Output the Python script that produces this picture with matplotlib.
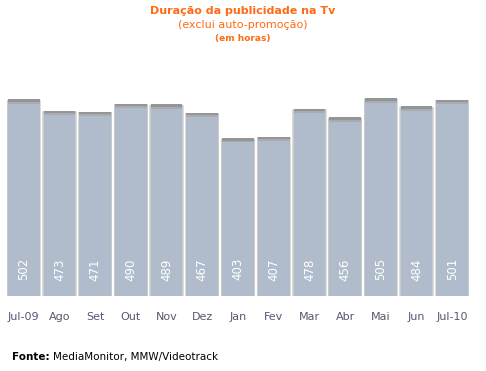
import matplotlib
matplotlib.use("Agg")
import matplotlib.pyplot as plt
import numpy as np

# dados
meses = ["Jul-09", "Ago", "Set", "Out", "Nov", "Dez", "Jan", "Fev",
         "Mar", "Abr", "Mai", "Jun", "Jul-10"]
horas = [502, 473, 471, 490, 489, 467, 403, 407, 478, 456, 505, 484, 501]

laranja = "#FF6A13"
cor_barra = "#B0BCCC"

fig = plt.figure(figsize=(4.86, 3.71), dpi=100)
fig.patch.set_facecolor("white")

# area das barras (em pixels: x 6..470, base y=296)
ax = fig.add_axes([6 / 486, 1 - 296 / 371, 464 / 486, 235 / 371])
ax.set_xlim(-0.5, 12.5)
ax.set_ylim(0, 600)
ax.axis("off")

x = np.arange(len(meses))

# sombra clara a volta das barras
ax.bar(x, [h + 4 for h in horas], width=0.96, bottom=-5, color="#DCDCDC",
       edgecolor="none", zorder=1)
ax.bar(x, [h + 2 for h in horas], width=0.93, bottom=-4, color="#CACACA",
       edgecolor="none", zorder=1.5)
# barra principal
ax.bar(x, horas, width=0.89, color=cor_barra, edgecolor="none", zorder=2)
# topo cinzento
ax.bar(x, [11] * len(horas), width=0.89, bottom=[h - 11 for h in horas],
       color="#A9ACAE", edgecolor="none", zorder=3)
ax.bar(x, [6] * len(horas), width=0.89, bottom=[h - 6 for h in horas],
       color="#939596", edgecolor="none", zorder=3.5)

for xi, h in zip(x, horas):
    ax.text(xi, 68, str(h), rotation=90, ha="center", va="center",
            color="white", fontsize=8.5, zorder=4)
    ax.text(xi, -53, meses[xi], ha="center", va="center",
            color="#5E5470", fontsize=8, clip_on=False)

# titulos
fig.text(243 / 486, 1 - 11 / 371, "Duração da publicidade na Tv",
         ha="center", va="center", color=laranja, fontsize=8, weight="bold")
fig.text(243 / 486, 1 - 25 / 371, "(exclui auto-promoção)",
         ha="center", va="center", color=laranja, fontsize=8)
fig.text(243 / 486, 1 - 38 / 371, "(em horas)",
         ha="center", va="center", color=laranja, fontsize=6.5, weight="bold")

# fonte
fig.text(12 / 486, 1 - 357 / 371, "Fonte:", ha="left", va="center",
         fontsize=7.5, weight="bold", color="black")
fig.text(53 / 486, 1 - 357 / 371, "MediaMonitor, MMW/Videotrack",
         ha="left", va="center", fontsize=7.5, color="black")

fig.savefig("out.png", dpi=100, facecolor="white")
